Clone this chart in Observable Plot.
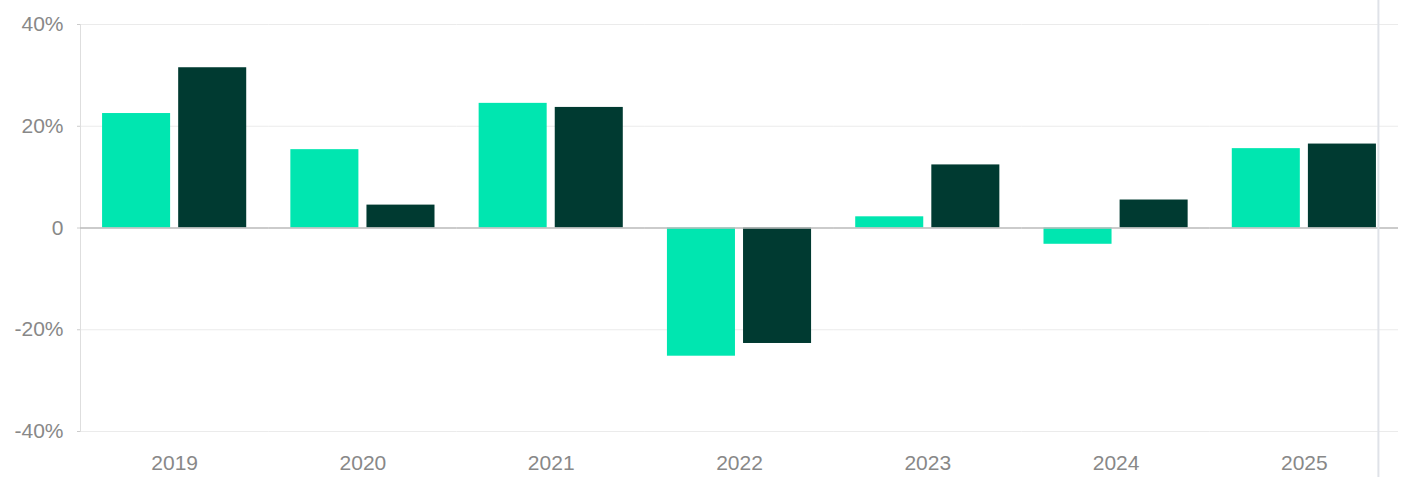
<!DOCTYPE html>
<html>
<head>
<meta charset="utf-8">
<script src="https://cdn.jsdelivr.net/npm/d3@7"></script>
<script src="https://cdn.jsdelivr.net/npm/@observablehq/plot@0.6"></script>
<style>
  html, body { margin: 0; padding: 0; background: #fff; }
  svg { display: block; }
</style>
</head>
<body>
<div id="chart"></div>
<script>
const years = ["2019", "2020", "2021", "2022", "2023", "2024", "2025"];
const seriesNames = ["Series A", "Series B"];
const seriesA = [22.5, 15.4, 24.5, -25.2, 2.2, -3.2, 15.6];
const seriesB = [31.5, 4.5, 23.7, -22.7, 12.4, 5.5, 16.5];
const colors = ["#00e6b0", "#003a31"];
const yTicks = [-40, -20, 0, 20, 40];

const data = years.flatMap((year, i) => [
  {year, series: seriesNames[0], value: seriesA[i]},
  {year, series: seriesNames[1], value: seriesB[i]}
]);

const chart = Plot.plot({
  width: 1405,
  height: 477,
  marginLeft: 80,
  marginRight: 7,
  marginTop: 24,
  marginBottom: 46,
  style: {fontFamily: "'Liberation Sans', Arial, sans-serif", fontSize: "21px", color: "#888", background: "#fff"},
  fx: {domain: years, padding: 0, label: null, round: false},
  x: {domain: seriesNames, axis: null, paddingInner: 0.106, paddingOuter: 0.29, round: false},
  y: {domain: [-40, 40], label: null},
  color: {domain: seriesNames, range: colors},
  marks: [
    Plot.gridY(yTicks, {stroke: "#ebebeb", strokeOpacity: 1}),
    Plot.frame({anchor: "left", stroke: "#dedede", facetAnchor: "left"}),
    Plot.axisY({ticks: yTicks, tickFormat: d => d === 0 ? "0" : d + "%", tickSize: 3, tickPadding: 14, stroke: "#cccccc", fill: "#888", fontSize: 21}),
    Plot.axisFx({anchor: "bottom", tickSize: 0, tickPadding: 24, fill: "#888", fontSize: 21, label: null}),
    Plot.barY(data, {fx: "year", x: "series", y: "value", fill: "series"}),
    Plot.ruleY([0], {stroke: "#bdbdbd", strokeWidth: 1.5}),
    Plot.ruleX([{year: years[years.length - 1], series: seriesNames[1]}], {fx: "year", x: "series", dx: 36, stroke: "#dfe2e8", strokeWidth: 2, insetTop: -24, insetBottom: -46})
  ]
});
document.getElementById("chart").appendChild(chart);
</script>
</body>
</html>
